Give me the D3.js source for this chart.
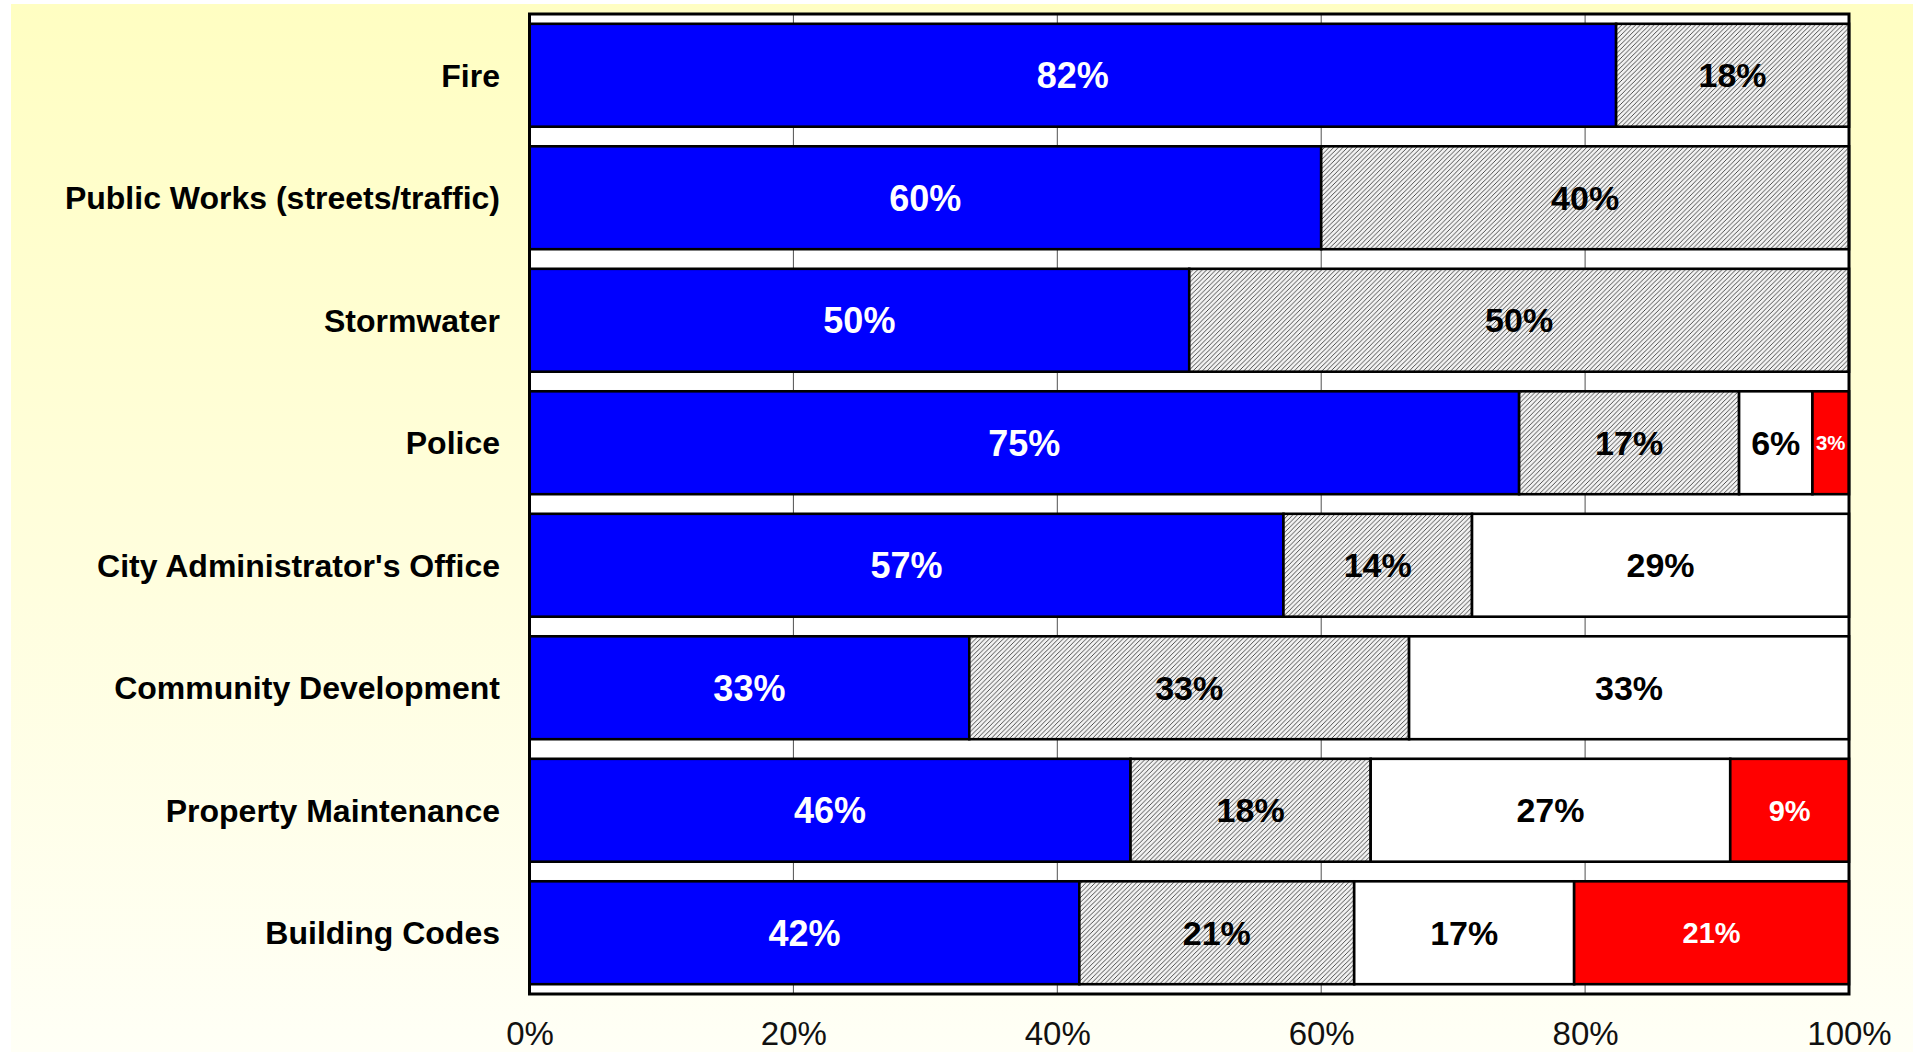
<!DOCTYPE html>
<html>
<head>
<meta charset="utf-8">
<script src="https://cdn.jsdelivr.net/npm/d3@7"></script>
<style>
  html, body { margin: 0; padding: 0; background: #ffffff; }
  svg { display: block; }
  text { font-family: "Liberation Sans", Arial, Helvetica, sans-serif; }
</style>
</head>
<body>
<svg id="chart" width="1913" height="1052"></svg>
<script>
// Departments, top to bottom
const categories = [
  "Fire",
  "Public Works (streets/traffic)",
  "Stormwater",
  "Police",
  "City Administrator's Office",
  "Community Development",
  "Property Maintenance",
  "Building Codes"
];

// Share of responses per department (percent), one array per stacked segment
const seriesBlue  = [82.35, 60, 50, 75.00, 57.14, 33.33, 45.55, 41.67];
const seriesHatch = [17.65, 40, 50, 16.67, 14.29, 33.33, 18.20, 20.83];
const seriesWhite = [0,     0,  0,   5.56, 28.57, 33.34, 27.25, 16.67];
const seriesRed   = [0,     0,  0,   2.77,  0,     0,     9.00, 20.83];

const tickValues = [0, 20, 40, 60, 80, 100];
const tickLabels = ["0%", "20%", "40%", "60%", "80%", "100%"];

const seriesKeys = ["blue", "hatch", "white", "red"];
const seriesData = { blue: seriesBlue, hatch: seriesHatch, white: seriesWhite, red: seriesRed };

const rows = categories.map((c, i) => {
  const r = { category: c };
  seriesKeys.forEach(k => { r[k] = seriesData[k][i]; });
  return r;
});

const W = 1913, H = 1052;
const plot = { left: 529.5, right: 1849, top: 14, bottom: 994 };

const svg = d3.select("#chart");
const defs = svg.append("defs");

// soft yellow backdrop fading toward white
const grad = defs.append("linearGradient")
  .attr("id", "bg").attr("x1", 0).attr("y1", 0).attr("x2", 0).attr("y2", 1);
grad.append("stop").attr("offset", "0%").attr("stop-color", "#fffec2");
grad.append("stop").attr("offset", "55%").attr("stop-color", "#fffede");
grad.append("stop").attr("offset", "100%").attr("stop-color", "#fffff6");

// diagonal hatch fill
const pat = defs.append("pattern")
  .attr("id", "hatch").attr("patternUnits", "userSpaceOnUse")
  .attr("width", 4.6).attr("height", 4.6);
pat.append("rect").attr("width", 4.6).attr("height", 4.6).attr("fill", "#f2f2f2");
pat.append("path")
  .attr("d", "M0,4.6 L4.6,0 M-1,1 L1,-1 M3.6,5.6 L5.6,3.6")
  .attr("stroke", "#3c3c3c").attr("stroke-width", 0.9);

svg.append("rect").attr("x", 11).attr("y", 4)
  .attr("width", W - 11).attr("height", H - 4).attr("fill", "url(#bg)");

const x = d3.scaleLinear().domain([0, 100]).range([plot.left, plot.right]);
const y = d3.scaleBand().domain(categories).range([plot.top, plot.bottom])
  .paddingInner(0.16).paddingOuter(0.08);

// plot area
svg.append("rect")
  .attr("x", plot.left).attr("y", plot.top)
  .attr("width", plot.right - plot.left).attr("height", plot.bottom - plot.top)
  .attr("fill", "#ffffff");

// vertical gridlines
svg.append("g").selectAll("line")
  .data(tickValues.slice(1, -1))
  .join("line")
  .attr("x1", d => x(d)).attr("x2", d => x(d))
  .attr("y1", plot.top).attr("y2", plot.bottom)
  .attr("stroke", "#505050").attr("stroke-width", 1);

const stack = d3.stack().keys(seriesKeys);
const layers = stack(rows);

const fills = { blue: "#0000ff", hatch: "url(#hatch)", white: "#ffffff", red: "#ff0000" };
const labelColor = { blue: "#ffffff", hatch: "#000000", white: "#000000", red: "#ffffff" };
const labelSize = { blue: 36, hatch: 34, white: 34, red: 29 };

const gBars = svg.append("g");
layers.forEach(layer => {
  const key = layer.key;
  gBars.append("g").selectAll("rect")
    .data(layer.filter(d => d[1] - d[0] > 0))
    .join("rect")
    .attr("x", d => x(d[0]))
    .attr("y", d => y(d.data.category))
    .attr("width", d => x(d[1]) - x(d[0]))
    .attr("height", y.bandwidth())
    .attr("fill", fills[key])
    .attr("stroke", "#000000")
    .attr("stroke-width", 2.6);
});

// segment value labels
const gLabels = svg.append("g");
layers.forEach(layer => {
  const key = layer.key;
  gLabels.append("g").selectAll("text")
    .data(layer.filter(d => d[1] - d[0] > 0))
    .join("text")
    .attr("x", d => (x(d[0]) + x(d[1])) / 2)
    .attr("y", d => y(d.data.category) + y.bandwidth() / 2)
    .attr("dy", "0.36em")
    .attr("text-anchor", "middle")
    .attr("font-weight", "bold")
    .attr("font-size", labelSize[key])
    .attr("fill", labelColor[key])
    .text(d => Math.round(d[1] - d[0]) + "%")
    .each(function(d) {
      // shrink labels that would not fit inside a narrow segment
      const room = x(d[1]) - x(d[0]) - 7;
      const w = this.getComputedTextLength();
      if (w > room) {
        d3.select(this).attr("font-size", labelSize[key] * room / w);
      }
    });
});

// plot frame
svg.append("rect")
  .attr("x", plot.left).attr("y", plot.top)
  .attr("width", plot.right - plot.left).attr("height", plot.bottom - plot.top)
  .attr("fill", "none").attr("stroke", "#000000").attr("stroke-width", 3);

// category labels
svg.append("g").selectAll("text")
  .data(categories)
  .join("text")
  .attr("x", 500)
  .attr("y", d => y(d) + y.bandwidth() / 2)
  .attr("dy", "0.36em")
  .attr("text-anchor", "end")
  .attr("font-weight", "bold")
  .attr("font-size", 32)
  .attr("fill", "#000000")
  .text(d => d);

// percent axis
const axis = d3.axisBottom(x)
  .tickValues(tickValues)
  .tickFormat((d, i) => tickLabels[i])
  .tickSize(0)
  .tickPadding(0);
const gAxis = svg.append("g")
  .attr("transform", `translate(0, ${plot.bottom})`)
  .call(axis);
gAxis.select(".domain").remove();
gAxis.selectAll("text")
  .attr("y", 51)
  .attr("dy", 0)
  .attr("font-size", 33)
  .attr("font-family", "\"Liberation Sans\", Arial, sans-serif")
  .attr("fill", "#111111");
</script>
</body>
</html>
